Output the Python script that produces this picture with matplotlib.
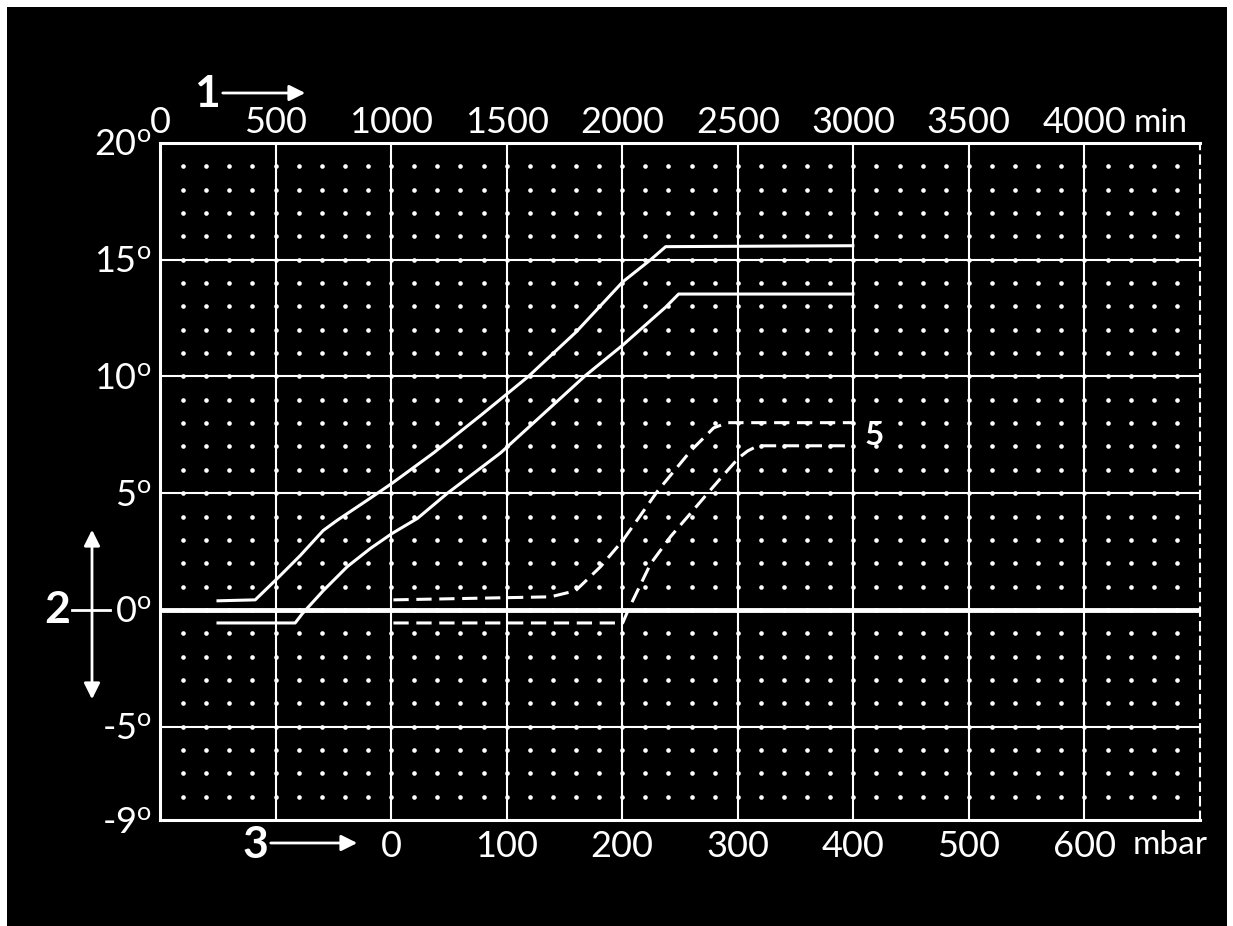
import matplotlib
matplotlib.use('Agg')
import matplotlib.pyplot as plt
import numpy as np

plt.rcParams['font.family'] = ['Lato', 'DejaVu Sans']

# ---- data (time in min, angle in degrees) ----
time_ticks = [0, 500, 1000, 1500, 2000, 2500, 3000, 3500, 4000]
angle_ticks = [20, 15, 10, 5, 0, -5, -9]
mbar_ticks = [0, 100, 200, 300, 400, 500, 600]

curve_a_t = [251, 412, 507, 607, 706, 767, 897, 1005, 1183, 1390, 1594, 1800, 2002, 2123, 2188, 2998]
curve_a_y = [0.39, 0.43, 1.34, 2.33, 3.40, 3.84, 4.70, 5.43, 6.72, 8.35, 10.0, 11.9, 14.05, 15.0, 15.56, 15.6]

curve_b_t = [251, 585, 615, 706, 810, 910, 1005, 1114, 1244, 1473, 1841, 2002, 2188, 2244, 2998]
curve_b_y = [-0.56, -0.56, -0.17, 0.82, 1.85, 2.63, 3.28, 3.92, 5.0, 6.72, 10.04, 11.34, 12.97, 13.53, 13.53]

curve_c_t = [1010, 1690, 1798, 1906, 2002, 2153, 2296, 2396, 2457, 3003]
curve_c_y = [0.43, 0.56, 0.82, 1.85, 2.97, 5.09, 6.81, 7.80, 8.02, 8.02]

curve_d_t = [1010, 2002, 2028, 2123, 2210, 2296, 2370, 2457, 2504, 2543, 2587, 3003]
curve_d_y = [-0.56, -0.56, 0.04, 1.98, 3.15, 4.14, 5.0, 5.99, 6.51, 6.81, 7.03, 7.03]

W, H = 1233, 926
fig = plt.figure(figsize=(W / 100, H / 100), dpi=100)
fig.patch.set_facecolor('white')

# overlay in pixel coords for background + annotations
ov = fig.add_axes([0, 0, 1, 1])
ov.set_xlim(0, W)
ov.set_ylim(H, 0)
ov.axis('off')
ov.add_patch(plt.Rectangle((7, 7), 1220, 925, facecolor='black', edgecolor='none'))

ax = fig.add_axes([160 / W, 1 - 820 / H, 1040 / W, 677 / H])
ax.set_facecolor('black')
ax.set_xlim(0, 4500)
ax.set_ylim(-9, 20)

# grid
for t in time_ticks[1:]:
    ax.axvline(t, color='white', lw=1.5, zorder=1)
for a in [15, 10, 5, -5]:
    ax.axhline(a, color='white', lw=1.5, zorder=1)
ax.axhline(0, color='white', lw=3.5, zorder=2)
gx, gy = np.meshgrid(np.arange(100, 4500, 100), np.arange(-8, 20, 1))
ax.scatter(gx.ravel(), gy.ravel(), s=11, color='white', linewidths=0, zorder=1)

# curves
ax.plot(curve_a_t, curve_a_y, color='white', lw=2.2, zorder=3)
ax.plot(curve_b_t, curve_b_y, color='white', lw=2.2, zorder=3)
ax.plot(curve_c_t, curve_c_y, color='white', lw=2.2, ls=(0, (5, 2.5)), zorder=3)
ax.plot(curve_d_t, curve_d_y, color='white', lw=2.2, ls=(0, (5, 2.5)), zorder=3)
ax.text(3050, 7.45, '5', color='white', fontsize=24, fontweight='bold', va='center', ha='left')

# spines
for side in ['left', 'top', 'bottom']:
    ax.spines[side].set_color('white')
    ax.spines[side].set_linewidth(2.2)
ax.spines['right'].set_color('white')
ax.spines['right'].set_linewidth(1.5)
ax.spines['right'].set_linestyle((0, (4, 3)))

# top axis: time
ax.xaxis.tick_top()
ax.set_xticks(time_ticks)
ax.set_xticklabels([str(t) for t in time_ticks])
ax.tick_params(axis='x', length=0, pad=3, colors='white', labelsize=26)

# left axis: angle (hyphen kept outside mathtext)
def angle_label(a):
    sign = '-' if a < 0 else ''
    return sign + r'$\mathregular{%d^{o}}$' % abs(a)

ax.set_yticks(angle_ticks)
ax.set_yticklabels([angle_label(a) for a in angle_ticks])
ax.tick_params(axis='y', length=0, pad=6, colors='white', labelsize=26)

# bottom axis: pressure
secax = ax.secondary_xaxis('bottom', functions=(lambda t: (t - 1000) / 5, lambda p: p * 5 + 1000))
secax.set_xticks(mbar_ticks)
secax.set_xticklabels([str(p) for p in mbar_ticks])
secax.tick_params(length=0, pad=7, colors='white', labelsize=26)
secax.spines['bottom'].set_visible(False)

# unit labels and numbered arrows
ov.text(1134, 123, 'min', color='white', fontsize=24, va='center', ha='left')
ov.text(1133, 845, 'mbar', color='white', fontsize=24, va='center', ha='left')

ov.text(207, 94, '1', color='white', fontsize=32, fontweight='bold', ha='center', va='center')
ov.annotate('', xy=(308, 93), xytext=(220, 93),
            arrowprops=dict(arrowstyle='-|>', color='white', lw=2, mutation_scale=24))

ov.text(255, 845, '3', color='white', fontsize=32, fontweight='bold', ha='center', va='center')
ov.annotate('', xy=(360, 843), xytext=(268, 843),
            arrowprops=dict(arrowstyle='-|>', color='white', lw=2, mutation_scale=24))

ov.text(57, 610, '2', color='white', fontsize=32, fontweight='bold', ha='center', va='center')
ov.plot([72, 110], [610, 610], color='white', lw=2)
ov.annotate('', xy=(92, 527), xytext=(92, 612),
            arrowprops=dict(arrowstyle='-|>', color='white', lw=2, mutation_scale=24))
ov.annotate('', xy=(92, 702), xytext=(92, 608),
            arrowprops=dict(arrowstyle='-|>', color='white', lw=2, mutation_scale=24))
ov.plot([167, 187], [634, 634], color='white', lw=2)

fig.savefig('out.png', dpi=100, facecolor='white')
